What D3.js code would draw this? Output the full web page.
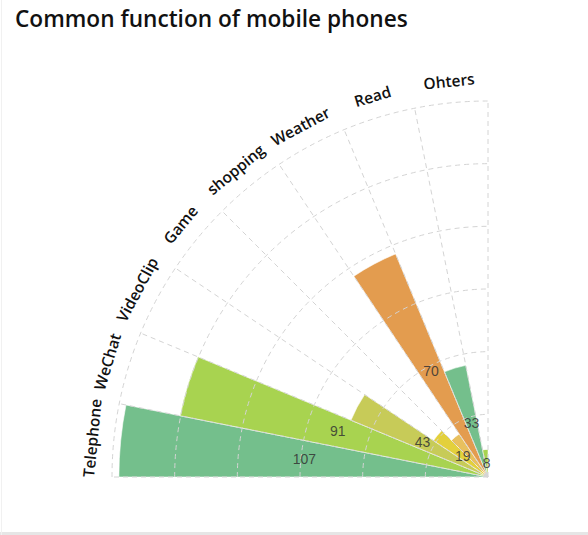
<!DOCTYPE html>
<html>
<head>
<meta charset="utf-8">
<script src="https://cdn.jsdelivr.net/npm/d3@7"></script>
<style>
html,body{margin:0;padding:0;background:#fff;}
svg{display:block;}
</style>
</head>
<body>
<svg id="chart" width="588" height="535"></svg>
<script>
const categories = ["Telephone", "WeChat", "VideoClip", "Game", "shopping", "Weather", "Read", "Ohters"];
const values = [107, 91, 43, 19, 15, 70, 33, 8];
const colors = ["#74bf8c", "#a8d350", "#c7cb58", "#e3d03c", "#e8c05e", "#e39c4f", "#74bf8c", "#a8d350"];
const title = "Common function of mobile phones";
const radialMax = 109;
const ringCount = 6;

const W = 588, H = 535;
const cx = 488, cy = 477, R = 376;
const svg = d3.select("#chart");

// frame
svg.append("rect").attr("x", 0).attr("y", 0).attr("width", W).attr("height", H).attr("fill", "#fff");
svg.append("rect").attr("x", 0).attr("y", 532).attr("width", W).attr("height", 3).attr("fill", "#e6e6e6");
svg.append("rect").attr("x", 1).attr("y", 0).attr("width", 1).attr("height", H).attr("fill", "#f1f1f1");

// title
const t = svg.append("text").attr("x", 15).attr("y", 27)
  .attr("font-family", "'Open Sans', sans-serif").attr("font-weight", 600)
  .attr("font-size", 22).attr("fill", "#111").text(title);
const tw = t.node().getComputedTextLength();
t.attr("font-size", 22 * 393 / tw);

const angle = d3.scaleBand().domain(categories).range([-Math.PI / 2, 0]).padding(0);
const radius = d3.scaleLinear().domain([0, radialMax]).range([0, R]);

const g = svg.append("g").attr("transform", `translate(${cx},${cy})`);

const arc = d3.arc()
  .innerRadius(0)
  .outerRadius(d => radius(d.v))
  .startAngle(d => angle(d.c))
  .endAngle(d => angle(d.c) + angle.bandwidth());

const data = categories.map((c, i) => ({ c, v: values[i], color: colors[i] }));

g.selectAll("path.bar").data(data).join("path")
  .attr("class", "bar")
  .attr("d", arc)
  .attr("fill", d => d.color)
  .attr("stroke", "rgba(255,255,255,0.7)")
  .attr("stroke-width", 0.8);

// grid on top
const ringVals = d3.range(1, ringCount + 1).map(i => radialMax * i / ringCount);
g.selectAll("path.ring").data(ringVals).join("path")
  .attr("class", "ring")
  .attr("d", d => {
    const r = radius(d);
    return `M${-r},0 A${r},${r} 0 0 1 0,${-r}`;
  })
  .attr("fill", "none").attr("stroke", "#d4d4d4").attr("stroke-width", 1)
  .attr("stroke-dasharray", "5,4");

const spokeAngles = categories.map(c => angle(c)).concat([0]);
g.selectAll("line.spoke").data(spokeAngles).join("line")
  .attr("class", "spoke")
  .attr("x1", 0).attr("y1", 0)
  .attr("x2", a => R * Math.sin(a)).attr("y2", a => -R * Math.cos(a))
  .attr("stroke", "#d4d4d4").attr("stroke-width", 1).attr("stroke-dasharray", "5,4");

// category labels
const labelR = 398;
g.selectAll("text.cat").data(categories).join("text")
  .attr("class", "cat")
  .attr("transform", c => {
    const a = angle(c) + angle.bandwidth() / 2;
    const x = labelR * Math.sin(a), y = -labelR * Math.cos(a);
    return `translate(${x},${y}) rotate(${a * 180 / Math.PI})`;
  })
  .attr("text-anchor", "middle").attr("dominant-baseline", "central")
  .attr("font-family", "'Open Sans', sans-serif").attr("font-size", 15.5)
  .attr("font-weight", 600)
  .attr("fill", "#111").text(c => c);

// value labels with overlap hiding
const placed = [];
const lg = g.append("g");
data.forEach(d => {
  const [x, y] = arc.centroid(d);
  const txt = lg.append("text").attr("x", x).attr("y", y)
    .attr("text-anchor", "middle").attr("dominant-baseline", "central")
    .attr("font-family", "'Liberation Sans', Arial, sans-serif").attr("font-size", 14)
    .attr("fill", "#333").attr("fill-opacity", 0.85).text(d.v);
  const b = txt.node().getBBox();
  const hit = placed.some(p => !(b.x + b.width < p.x || p.x + p.width < b.x || b.y + b.height < p.y || p.y + p.height < b.y));
  if (hit) txt.remove(); else placed.push(b);
});
</script>
</body>
</html>
